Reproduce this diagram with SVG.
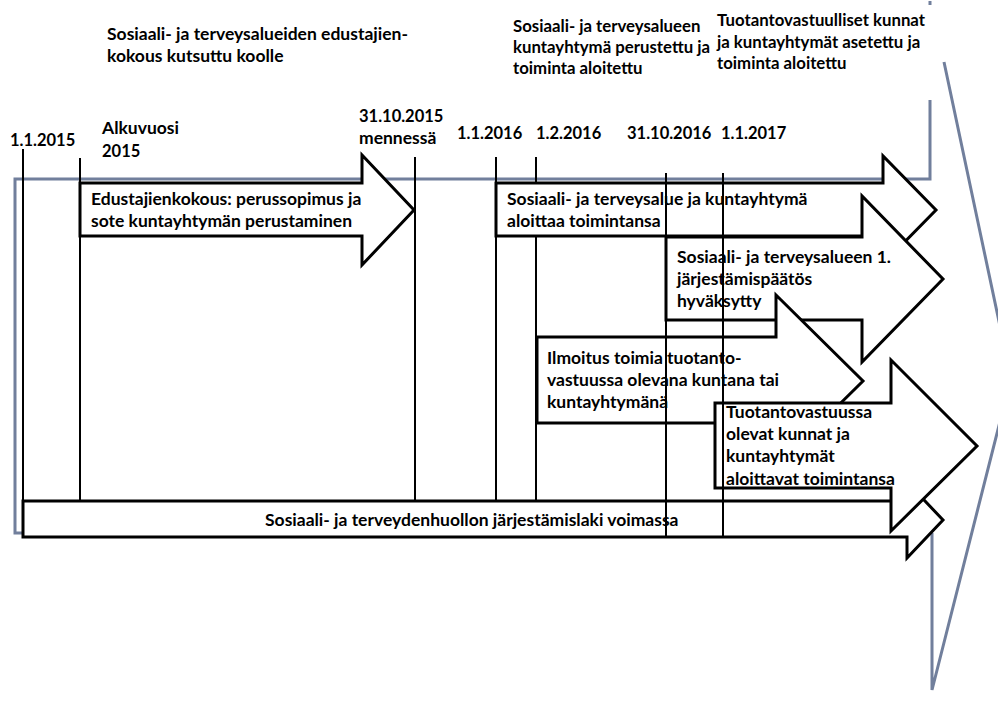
<svg xmlns="http://www.w3.org/2000/svg" width="998" height="706" viewBox="0 0 998 706">
<style>
.g{fill:none;stroke:#717f9c;stroke-width:3}
.a{fill:#fff;stroke:#000;stroke-width:3;stroke-linejoin:miter}
.v{stroke:#000;stroke-width:2;fill:none}
.t{font-family:Lato,"Liberation Sans",sans-serif;font-weight:bold;font-size:17.5px;fill:#000}
.d{font-size:16.5px}
.s{font-size:16.8px}
</style>
<rect width="998" height="706" fill="#fff"/>
<g id="background">
<path class="g" d="M930,1V5"/>
<path class="g" d="M930,100V179H15V533H23"/>
<path class="g" d="M944,62L1011,378L932,690V533"/>
</g>
<g id="connectors">
<path class="v" d="M23,149V501M80,158V501M415,157V501M496,157V501M536,157V501"/>
</g>
<g id="n-law"><path class="a" d="M23,501H907V482L943,520L907,558V537H23Z"/><text class="t" x="265" y="526">Sosiaali- ja terveydenhuollon järjestämislaki voimassa</text></g>
<g id="n-edustajat"><path class="a" d="M80,183H362V155L414,210L362,265V236H80Z"/><text class="t" x="91" y="205">Edustajienkokous: perussopimus ja</text><text class="t" x="91" y="227">sote kuntayhtymän perustaminen</text></g>
<g id="n-aloittaa"><path class="a" d="M496,183H883V156L936,210L883,264V236H496Z"/><text class="t" x="507" y="205">Sosiaali- ja terveysalue ja kuntayhtymä</text><text class="t" x="507" y="227">aloittaa toimintansa</text></g>
<g id="n-paatos"><path class="a" d="M666,237H862V196L943,279L862,362V320H666Z"/><text class="t" x="677" y="263">Sosiaali- ja terveysalueen 1.</text><text class="t" x="677" y="285">järjestämispäätös</text><text class="t" x="677" y="307">hyväksytty</text></g>
<g id="n-ilmoitus"><path class="a" d="M537,337H776V295L863,381L776,467V423H537Z"/><text class="t" x="547" y="364">Ilmoitus toimia tuotanto-</text><text class="t" x="547" y="386">vastuussa olevana kuntana tai</text><text class="t" x="547" y="408">kuntayhtymänä</text></g>
<g id="n-tuotanto"><path class="a" d="M715,403H891V360L977,446L891,531V488H715Z"/><text class="t" x="726" y="418">Tuotantovastuussa</text><text class="t" x="726" y="440">olevat kunnat ja</text><text class="t" x="726" y="462">kuntayhtymät</text><text class="t" x="726" y="485">aloittavat toimintansa</text></g>
<g id="connectors-top">
<path class="v" d="M666,173V537M723,173V537"/>
</g>
<g id="labels">
<text class="t" x="107" y="40">Sosiaali- ja terveysalueiden edustajien-</text>
<text class="t" x="107" y="62">kokous kutsuttu koolle</text>
<text class="t s" x="513" y="32">Sosiaali- ja terveysalueen</text>
<text class="t s" x="513" y="53">kuntayhtymä perustettu ja</text>
<text class="t s" x="513" y="74">toiminta aloitettu</text>
<text class="t s" x="717" y="26">Tuotantovastuulliset kunnat</text>
<text class="t s" x="717" y="48">ja kuntayhtymät asetettu ja</text>
<text class="t s" x="717" y="69">toiminta aloitettu</text>
<text class="t d" x="10" y="146">1.1.2015</text>
<text class="t" x="102" y="134">Alkuvuosi</text>
<text class="t d" x="102" y="157">2015</text>
<text class="t d" x="359" y="122">31.10.2015</text>
<text class="t" x="359" y="144">mennessä</text>
<text class="t d" x="457" y="139">1.1.2016</text>
<text class="t d" x="536" y="139">1.2.2016</text>
<text class="t d" x="627" y="139">31.10.2016</text>
<text class="t d" x="721" y="139">1.1.2017</text>
</g>
</svg>
